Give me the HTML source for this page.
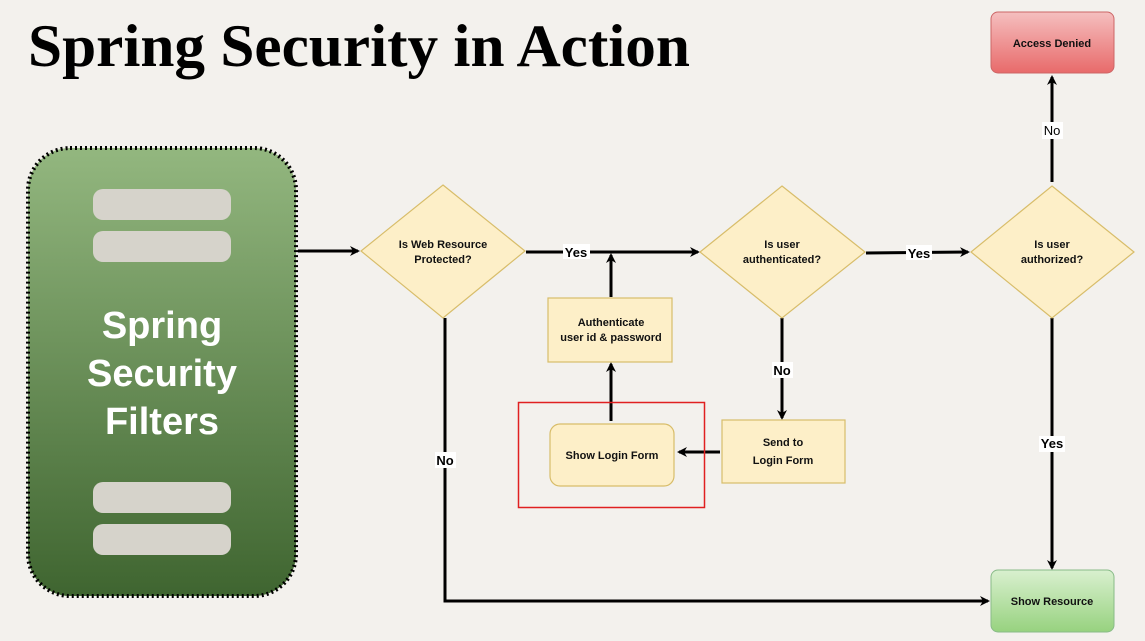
<!DOCTYPE html>
<html><head><meta charset="utf-8"><style>
html,body{margin:0;padding:0;background:#f3f1ed;}
svg{display:block;}
text{font-family:"Liberation Sans",sans-serif;font-weight:bold;}
</style></head><body>
<svg width="1145" height="641" viewBox="0 0 1145 641" xmlns="http://www.w3.org/2000/svg">
<defs>
<linearGradient id="g" x1="0" y1="0" x2="0" y2="1"><stop offset="0" stop-color="#93b77f"/><stop offset="1" stop-color="#3f6530"/></linearGradient>
<linearGradient id="r" x1="0" y1="0" x2="0" y2="1"><stop offset="0" stop-color="#f5bfbf"/><stop offset="1" stop-color="#e86a6a"/></linearGradient>
<linearGradient id="gr" x1="0" y1="0" x2="0" y2="1"><stop offset="0" stop-color="#d9f0cf"/><stop offset="1" stop-color="#97d27f"/></linearGradient>
<marker id="a" markerWidth="10" markerHeight="10" refX="8" refY="5" orient="auto" markerUnits="userSpaceOnUse"><path d="M0,0 L10,5 L0,10 L3,5 z" fill="#000"/></marker>
</defs>
<rect width="1145" height="641" fill="#f3f1ed"/>
<text x="28" y="66" font-family="Liberation Serif,serif" font-size="60" textLength="662" lengthAdjust="spacingAndGlyphs" style="font-family:'Liberation Serif',serif">Spring Security in Action</text>

<rect x="28" y="148" width="268" height="448" rx="42" fill="url(#g)" stroke="#000" stroke-width="4" stroke-dasharray="2,3"/>
<rect x="93" y="189" width="138" height="31" rx="10" fill="#d6d3cb"/>
<rect x="93" y="231" width="138" height="31" rx="10" fill="#d6d3cb"/>
<rect x="93" y="482" width="138" height="31" rx="10" fill="#d6d3cb"/>
<rect x="93" y="524" width="138" height="31" rx="10" fill="#d6d3cb"/>
<text x="162" y="338" font-size="38" fill="#fff" text-anchor="middle">Spring</text>
<text x="162" y="386" font-size="38" fill="#fff" text-anchor="middle">Security</text>
<text x="162" y="434" font-size="38" fill="#fff" text-anchor="middle">Filters</text>

<g stroke="#000" stroke-width="3" fill="none">
<line x1="298" y1="251" x2="358" y2="251" marker-end="url(#a)"/>
<line x1="526" y1="252" x2="698" y2="252" marker-end="url(#a)"/>
<line x1="866" y1="253" x2="968" y2="252" marker-end="url(#a)"/>
<line x1="1052" y1="182" x2="1052" y2="77" marker-end="url(#a)"/>
<line x1="1052" y1="318" x2="1052" y2="568" marker-end="url(#a)"/>
<line x1="782" y1="318" x2="782" y2="418" marker-end="url(#a)"/>
<line x1="720" y1="452" x2="679" y2="452" marker-end="url(#a)"/>
<line x1="611" y1="421" x2="611" y2="364" marker-end="url(#a)"/>
<line x1="611" y1="297" x2="611" y2="255" marker-end="url(#a)"/>
<polyline points="445,318 445,601 988,601" marker-end="url(#a)"/>
</g>

<g fill="#fdefc8" stroke="#d8bd6a" stroke-width="1.2">
<polygon points="443,185 525,251 443,318 361,251"/>
<polygon points="782,186 865,252 782,318 700,252"/>
<polygon points="1052,186 1134,252 1052,318 971,252"/>
<rect x="548" y="298" width="124" height="64"/>
<rect x="722" y="420" width="123" height="63"/>
<rect x="550" y="424" width="124" height="62" rx="10"/>
</g>
<rect x="991" y="12" width="123" height="61" rx="7" fill="url(#r)" stroke="#c66" stroke-width="1"/>
<rect x="991" y="570" width="123" height="62" rx="7" fill="url(#gr)" stroke="#8b8" stroke-width="1"/>
<rect x="518.5" y="402.5" width="186" height="105" fill="none" stroke="#e02020" stroke-width="1.5"/>

<g font-size="11" text-anchor="middle" fill="#111">
<text x="443" y="248">Is Web Resource</text><text x="443" y="263">Protected?</text>
<text x="782" y="248">Is user</text><text x="782" y="263">authenticated?</text>
<text x="1052" y="248">Is user</text><text x="1052" y="263">authorized?</text>
<text x="611" y="326">Authenticate</text><text x="611" y="341">user id &amp; password</text>
<text x="783" y="446">Send to</text><text x="783" y="464">Login Form</text>
<text x="612" y="459">Show Login Form</text>
<text x="1052" y="47">Access Denied</text>
<text x="1052" y="605">Show Resource</text>
</g>
<g font-size="13" text-anchor="middle">
<rect x="563" y="244" width="27" height="15" fill="#fff"/><text x="576" y="257">Yes</text>
<rect x="906" y="245" width="26" height="15" fill="#fff"/><text x="919" y="258">Yes</text>
<rect x="1042" y="122" width="21" height="17" fill="#fff"/><text x="1052" y="135" font-weight="normal" style="font-weight:normal">No</text>
<rect x="772" y="362" width="21" height="16" fill="#fff"/><text x="782" y="375">No</text>
<rect x="435" y="452" width="21" height="16" fill="#fff"/><text x="445" y="465">No</text>
<rect x="1039" y="436" width="26" height="16" fill="#fff"/><text x="1052" y="448">Yes</text>
</g>
</svg>
</body></html>
